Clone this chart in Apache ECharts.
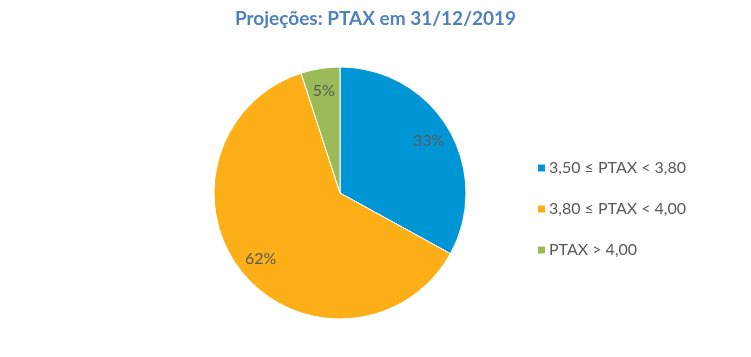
<!DOCTYPE html>
<html>
<head>
<meta charset="utf-8">
<script src="https://cdn.jsdelivr.net/npm/echarts@6/dist/echarts.min.js"></script>
<style>html,body{margin:0;padding:0;background:#fff;}#c{width:751px;height:357px;}</style>
</head>
<body>
<div id="c"></div>
<script>
const titleText = 'Projeções: PTAX em 31/12/2019';
const categories = ['3,50 ≤ PTAX < 3,80', '3,80 ≤ PTAX < 4,00', 'PTAX > 4,00'];
const values = [33, 62, 5];
const colors = ['#0096D6', '#FDAF17', '#9BBB59'];

const font = 'Lato, "Open Sans", sans-serif';
const chart = echarts.init(document.getElementById('c'), null, {renderer: 'canvas'});
const data = categories.map((c, i) => ({name: c, value: values[i], itemStyle: {color: colors[i]}}));
chart.setOption({
  animation: false,
  title: {
    text: titleText, left: 'center', top: 4,
    textStyle: {color: '#4F81BD', fontSize: 19, fontWeight: 'bold', fontFamily: font}
  },
  legend: {
    orient: 'vertical', left: 531, top: 155, itemWidth: 9, itemHeight: 9, itemGap: 25,
    icon: 'rect',
    textStyle: {color: '#595959', fontSize: 16, fontFamily: font, padding: [0, 0, 0, -2]},
    data: categories
  },
  series: [
    {
      type: 'pie', center: [340, 193], radius: [0, 126], startAngle: 90, clockwise: true,
      data: data, label: {show: false}, labelLine: {show: false},
      itemStyle: {borderColor: '#fff', borderWidth: 1}
    },
    {
      type: 'pie', center: [340, 193], radius: [72, 128], startAngle: 90, clockwise: true,
      silent: true, legendHoverLink: false,
      data: categories.map((c, i) => ({name: c, value: values[i], itemStyle: {color: 'rgba(0,0,0,0)'}})),
      label: {show: true, position: 'inside', formatter: '{c}%', color: '#595959', fontSize: 16, fontFamily: font},
      labelLine: {show: false}
    }
  ]
});
</script>
</body>
</html>
